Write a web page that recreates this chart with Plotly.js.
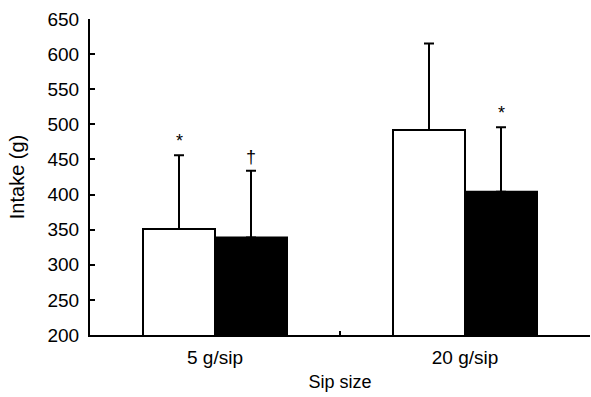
<!DOCTYPE html>
<html>
<head>
<meta charset="utf-8">
<script src="https://cdn.plot.ly/plotly-3.0.1.min.js"></script>
<style>html,body{margin:0;padding:0;background:#fff;}#chart{width:591px;height:397px;}</style>
</head>
<body>
<div id="chart"></div>
<script>
const categories = ['5 g/sip', '20 g/sip'];
const whiteMeans = [351, 492];
const whiteSD = [105, 123];
const blackMeans = [339, 404];
const blackSD = [95, 92];
const yTicks = [200, 250, 300, 350, 400, 450, 500, 550, 600, 650];
// significance markers: [category index, series (0 white, 1 black), symbol]
const markCat = [0, 0, 1];
const markSeries = [0, 1, 1];
const markText = ['*', '\u2020', '*'];

const fam = 'Liberation Sans, Arial, sans-serif';
const font = {family: fam, size: 18, color: '#000'};

const traces = [
  {
    type: 'bar', x: categories, y: whiteMeans,
    marker: {color: '#fff', line: {color: '#000', width: 2}},
    error_y: {type: 'data', array: whiteSD, arrayminus: whiteSD.map(() => 0), symmetric: false,
              color: '#000', thickness: 2, width: 5},
    showlegend: false, hoverinfo: 'none'
  },
  {
    type: 'bar', x: categories, y: blackMeans,
    marker: {color: '#000', line: {color: '#000', width: 2}},
    error_y: {type: 'data', array: blackSD, arrayminus: blackSD.map(() => 0), symmetric: false,
              color: '#000', thickness: 2, width: 5},
    showlegend: false, hoverinfo: 'none'
  }
];

const offset = 0.144;
const annotations = markCat.map((c, i) => {
  const s = markSeries[i];
  const top = s === 0 ? whiteMeans[c] + whiteSD[c] : blackMeans[c] + blackSD[c];
  return {
    x: c + (s === 0 ? -offset : offset), y: top, xref: 'x', yref: 'y',
    text: markText[i], showarrow: false, yanchor: 'bottom', yshift: 2,
    font: {family: fam, size: 18, color: '#000'}
  };
});

const layout = {
  width: 591, height: 397,
  margin: {l: 90, r: 1, t: 19, b: 62},
  paper_bgcolor: '#fff', plot_bgcolor: '#fff',
  font: font,
  barmode: 'group', bargap: 0.424, bargroupgap: 0,
  xaxis: {
    type: 'category', range: [-0.5, 1.5],
    showline: true, linecolor: '#000', linewidth: 2,
    ticks: 'inside', tickson: 'boundaries', ticklen: 4, tickwidth: 2, tickcolor: '#000',
    showgrid: false, zeroline: false, ticklabelstandoff: 4,
    tickfont: {family: fam, size: 19, color: '#000'},
    title: {text: 'Sip size', font: {family: fam, size: 18, color: '#000'}, standoff: 9}
  },
  yaxis: {
    range: [200, 650], tickvals: yTicks, ticktext: yTicks.map(String),
    showline: true, linecolor: '#000', linewidth: 2,
    ticks: 'inside', ticklen: 5, tickwidth: 2, tickcolor: '#000',
    showgrid: false, zeroline: false, ticklabelstandoff: 5,
    tickfont: {family: fam, size: 19, color: '#000'},
    title: {text: 'Intake (g)', font: {family: fam, size: 20, color: '#000'}, standoff: 17}
  },
  annotations: annotations
};

Plotly.newPlot('chart', traces, layout, {staticPlot: true, displayModeBar: false});
</script>
</body>
</html>
